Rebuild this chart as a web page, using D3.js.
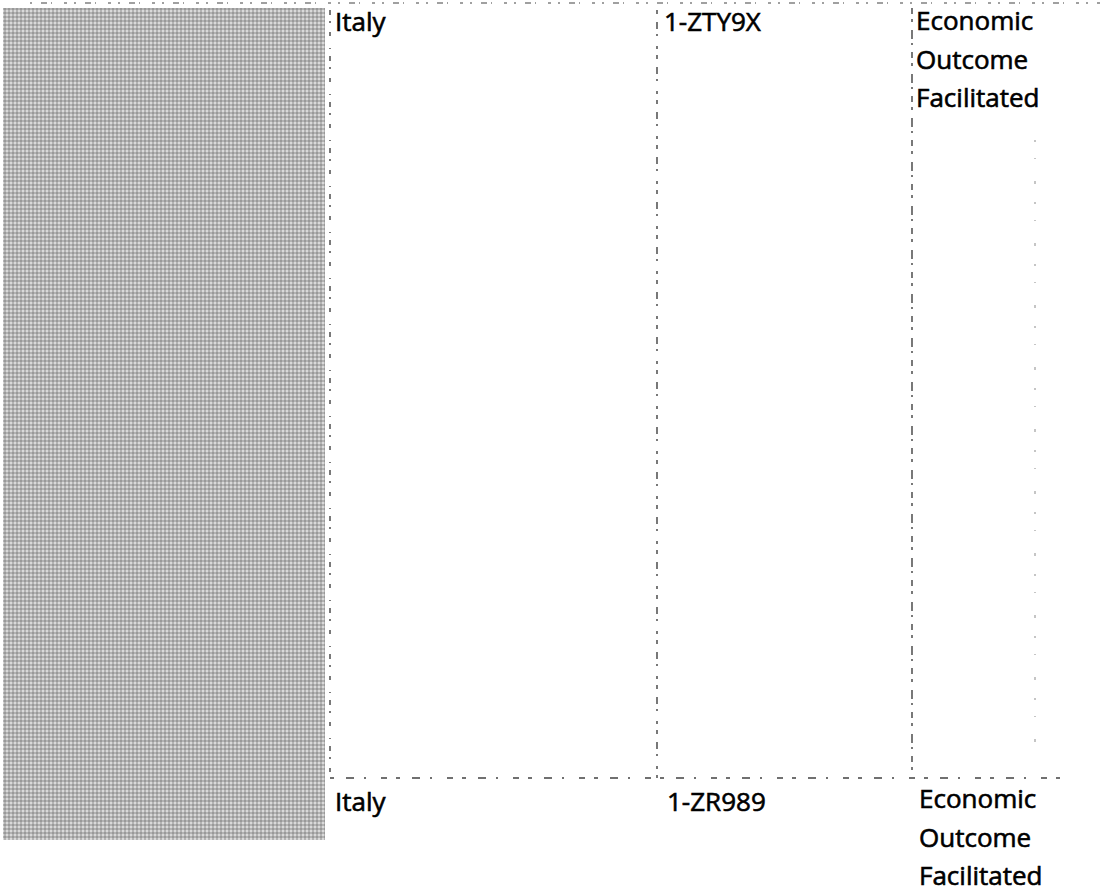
<!DOCTYPE html>
<html>
<head>
<meta charset="utf-8">
<script src="https://cdn.jsdelivr.net/npm/d3@7/dist/d3.min.js"></script>
<style>
  html, body { margin: 0; padding: 0; background: #fff; }
  svg { display: block; }
</style>
</head>
<body>
<script>
// ---- data (table rows read from the scanned page) ----
const countries = ["Italy", "Italy"];
const recordIds = ["1-ZTY9X", "1-ZR989"];
const outcomes  = ["Economic Outcome Facilitated", "Economic Outcome Facilitated"];
const columns   = ["shade", "country", "id", "outcome"];

const W = 1100, H = 895;
const svg = d3.select("body").append("svg").attr("width", W).attr("height", H);

// gingham-like hatch used for the shaded left column
const defs = svg.append("defs");
const pat = defs.append("pattern").attr("id", "hatch")
  .attr("patternUnits", "userSpaceOnUse").attr("width", 4).attr("height", 4);
pat.append("rect").attr("width", 4).attr("height", 4).attr("fill", "#d9d9d9");
pat.append("rect").attr("x", 0).attr("y", 0).attr("width", 2).attr("height", 4).attr("fill", "#b3b3b3");
pat.append("rect").attr("x", 0).attr("y", 0).attr("width", 4).attr("height", 2).attr("fill", "#b3b3b3");
pat.append("rect").attr("x", 0).attr("y", 0).attr("width", 2).attr("height", 2).attr("fill", "#999999");

// scales: column x positions and row baselines
const xCol = d3.scaleOrdinal().domain(columns).range([3, 330, 658, 913]);
const xColEnd = 325;
const rows = d3.range(countries.length);
const yRow = d3.scalePoint().domain(rows).range([31, 811]);
const lineGap = 38.5;

// shaded column
svg.append("rect")
  .attr("x", xCol("shade")).attr("y", 8)
  .attr("width", xColEnd - xCol("shade")).attr("height", 832)
  .attr("fill", "url(#hatch)");

// faint dashed rules (scanned table borders)
const rule = svg.append("g").attr("fill", "none").attr("stroke", "#111")
  .attr("stroke-width", 1.4).attr("stroke-opacity", 0.8);
rule.append("line").attr("x1", 30).attr("x2", 1100).attr("y1", 3).attr("y2", 3)
  .attr("stroke-dasharray", "2,9,6,4,1,12,3,7").attr("stroke-width", 1);
rule.append("line").attr("x1", xCol("country")).attr("x2", xCol("country")).attr("y1", 10).attr("y2", 778)
  .attr("stroke-dasharray", "5,6,2,9,4,12,1,7");
rule.append("line").attr("x1", xCol("id") - 1).attr("x2", xCol("id") - 1).attr("y1", 10).attr("y2", 778)
  .attr("stroke-dasharray", "4,8,7,5,2,10,3,6");
rule.append("line").attr("x1", xCol("outcome") - 1).attr("x2", xCol("outcome") - 1).attr("y1", 8).attr("y2", 778)
  .attr("stroke-dasharray", "6,5,3,8,9,4,2,7");
rule.append("line").attr("x1", xCol("outcome") + 122).attr("x2", xCol("outcome") + 122).attr("y1", 140).attr("y2", 760)
  .attr("stroke-dasharray", "2,16,1,22,3,18").attr("stroke-width", 0.9).attr("stroke-opacity", 0.55);
rule.append("line").attr("x1", xCol("country")).attr("x2", 1065).attr("y1", 778).attr("y2", 778)
  .attr("stroke-dasharray", "4,12,8,10,2,15,6,9");

// table text
const txt = svg.append("g")
  .attr("font-family", "'Open Sans', 'Noto Sans', sans-serif")
  .attr("font-size", 26).attr("font-weight", 500).attr("fill", "#000")
  .attr("stroke", "#000").attr("stroke-width", 0.6);

txt.selectAll("text.country").data(rows).join("text")
  .attr("class", "country")
  .attr("x", xCol("country") + 5).attr("y", d => yRow(d))
  .text(d => countries[d]);

txt.selectAll("text.rid").data(rows).join("text")
  .attr("class", "rid")
  .attr("x", d => xCol("id") + (d === 0 ? 6 : 9)).attr("y", d => yRow(d))
  .text(d => recordIds[d]);

const oc = txt.selectAll("text.outcome").data(rows).join("text")
  .attr("class", "outcome")
  .attr("x", d => xCol("outcome") + (d === 0 ? 3 : 6)).attr("y", d => yRow(d) - (d === 0 ? 1 : 3));
oc.selectAll("tspan").data(d => outcomes[d].split(" ").map(w => ({w, d}))).join("tspan")
  .attr("x", o => xCol("outcome") + (o.d === 0 ? 3 : 6))
  .attr("dy", (o, i) => i === 0 ? 0 : lineGap)
  .text(o => o.w);
</script>
</body>
</html>
